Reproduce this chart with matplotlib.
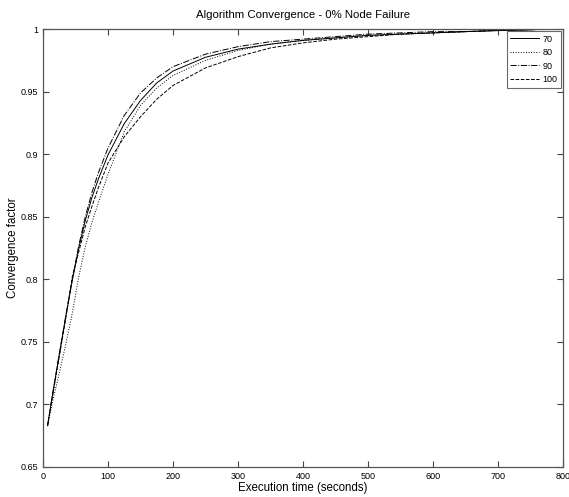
import matplotlib
matplotlib.use("Agg")
import matplotlib.pyplot as plt

plt.rcParams["font.family"] = ["Liberation Sans", "DejaVu Sans"]

# execution time (seconds) at which the convergence factor was sampled
time_s = [7, 15, 25, 35, 45, 55, 65, 75, 85, 100, 125, 150, 175, 200, 250,
          300, 350, 400, 450, 500, 550, 600, 650, 700, 750, 770]

conv_70 = [0.683, 0.709, 0.740, 0.770, 0.799, 0.825, 0.847, 0.865, 0.880,
           0.8995, 0.9245, 0.943, 0.957, 0.9665, 0.9775, 0.984, 0.988, 0.991,
           0.993, 0.995, 0.996, 0.997, 0.998, 0.9988, 0.9995, 0.9998]
conv_80 = [0.683, 0.703, 0.725, 0.748, 0.773, 0.802, 0.826, 0.845, 0.861,
           0.884, 0.918, 0.939, 0.953, 0.963, 0.975, 0.983, 0.988, 0.991,
           0.993, 0.995, 0.996, 0.997, 0.998, 0.999, 0.9995, 1.0]
conv_90 = [0.683, 0.709, 0.740, 0.771, 0.800, 0.827, 0.850, 0.869, 0.885,
           0.905, 0.931, 0.949, 0.961, 0.970, 0.980, 0.986, 0.990, 0.992,
           0.994, 0.996, 0.997, 0.998, 0.998, 0.999, 0.9995, 1.0]
conv_100 = [0.683, 0.708, 0.738, 0.769, 0.802, 0.822, 0.842, 0.858, 0.873,
            0.893, 0.914, 0.930, 0.944, 0.955, 0.969, 0.978, 0.985, 0.989,
            0.992, 0.994, 0.996, 0.997, 0.998, 0.999, 0.9995, 1.0]

series_labels = ["70", "80", "90", "100"]

x_ticks = [0, 100, 200, 300, 400, 500, 600, 700, 800]
y_ticks = [0.65, 0.7, 0.75, 0.8, 0.85, 0.9, 0.95, 1.0]
y_tick_labels = ["0.65", "0.7", "0.75", "0.8", "0.85", "0.9", "0.95", "1"]


def main():
    fig = plt.figure(figsize=(5.69, 4.97), dpi=100)
    ax = fig.add_axes([0.0756, 0.0604, 0.914, 0.881])

    styles = ["-", ":", "-.", "--"]
    for vals, ls, lab in zip([conv_70, conv_80, conv_90, conv_100], styles, series_labels):
        ax.plot(time_s, vals, color="black", linestyle=ls, linewidth=0.7, label=lab)

    ax.set_xlim(0, 800)
    ax.set_ylim(0.65, 1.0)
    ax.set_xticks(x_ticks)
    ax.set_xticklabels([str(t) for t in x_ticks])
    ax.set_yticks(y_ticks)
    ax.set_yticklabels(y_tick_labels)
    ax.tick_params(direction="in", length=4, width=0.8, labelsize=6.5,
                   top=True, right=True, color="#444444")

    for sp in ax.spines.values():
        sp.set_color("#555555")
        sp.set_linewidth(0.9)

    ax.set_title("Algorithm Convergence - 0% Node Failure", fontsize=8.2, pad=8)
    ax.set_xlabel("Execution time (seconds)", fontsize=8.3, labelpad=1)
    ax.set_ylabel("Convergence factor", fontsize=8.3)
    ax.yaxis.set_label_coords(-0.047, 0.5)

    leg = ax.legend(loc="upper right", fontsize=6.5, frameon=True, fancybox=False,
                    handlelength=3.2, borderaxespad=0.2, labelspacing=0.5,
                    borderpad=0.4, handletextpad=0.4)
    leg.get_frame().set_edgecolor("#444444")
    leg.get_frame().set_linewidth(0.8)

    fig.savefig("out.png", dpi=100)
    plt.close(fig)


if __name__ == "__main__":
    main()
